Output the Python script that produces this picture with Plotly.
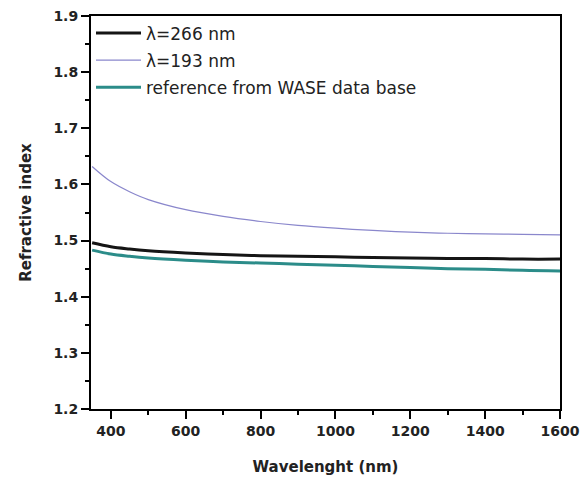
import plotly.graph_objects as go

# Wavelength grid (nm)
wavelength = [350, 400, 450, 500, 600, 700, 800, 900, 1000, 1100, 1200, 1300, 1400, 1500, 1600]

# Refractive index for the film deposited at 266 nm
n_266 = [1.496, 1.489, 1.485, 1.482, 1.478, 1.475, 1.473, 1.472, 1.471, 1.470, 1.469, 1.468, 1.468, 1.467, 1.467]
# Refractive index for the film deposited at 193 nm
n_193 = [1.632, 1.605, 1.587, 1.573, 1.555, 1.543, 1.534, 1.527, 1.522, 1.518, 1.515, 1.513, 1.512, 1.511, 1.510]
# Reference values from the WASE data base
n_ref = [1.483, 1.476, 1.472, 1.469, 1.465, 1.462, 1.460, 1.458, 1.456, 1.454, 1.452, 1.450, 1.449, 1.447, 1.446]

x_ticks = [400, 600, 800, 1000, 1200, 1400, 1600]
y_ticks = [1.2, 1.3, 1.4, 1.5, 1.6, 1.7, 1.8, 1.9]

FONT = "DejaVu Sans"
TEXT_COLOR = "#222222"

fig = go.Figure()
fig.add_trace(go.Scatter(x=wavelength, y=n_266, mode="lines", name="λ=266 nm",
                         line=dict(color="#151515", width=3, shape="spline"),
                         legendgroup="a"))
fig.add_trace(go.Scatter(x=wavelength, y=n_193, mode="lines", name="λ=193 nm",
                         line=dict(color="#8a87cc", width=1.2, shape="spline"),
                         legendgroup="b"))
fig.add_trace(go.Scatter(x=wavelength, y=n_ref, mode="lines", name="reference from WASE data base",
                         line=dict(color="#2b8c89", width=3, shape="spline"),
                         legendgroup="c"))

axis_common = dict(
    showline=True, linecolor="black", linewidth=2, mirror=True,
    ticks="outside", ticklen=8, tickwidth=2, tickcolor="black",
    showgrid=False, zeroline=False, automargin=False,
    tickfont=dict(family=FONT, size=14, color=TEXT_COLOR, weight="bold"),
)

fig.update_xaxes(
    range=[347, 1600], tickvals=x_ticks,
    minor=dict(dtick=100, tick0=0, ticks="outside", ticklen=4, tickwidth=2, tickcolor="black"),
    title=dict(text="Wavelenght (nm)", font=dict(family=FONT, size=15, color=TEXT_COLOR, weight="bold"),
               standoff=24),
    **axis_common,
)
fig.update_yaxes(
    range=[1.2, 1.9], tickvals=y_ticks, tickformat=".1f",
    minor=dict(dtick=0.05, tick0=1.2, ticks="outside", ticklen=4, tickwidth=2, tickcolor="black"),
    title=dict(text="Refractive index", font=dict(family=FONT, size=15, color=TEXT_COLOR, weight="bold"),
               standoff=18),
    **axis_common,
)
fig.update_layout(
    width=581, height=477,
    margin=dict(l=91, r=21, t=16, b=68),
    plot_bgcolor="white", paper_bgcolor="white",
    legend=dict(x=0.0, y=1.0015, xanchor="left", yanchor="top",
                bgcolor="rgba(0,0,0,0)", borderwidth=0,
                font=dict(family=FONT, size=17, color=TEXT_COLOR),
                itemwidth=45,
                traceorder="grouped", tracegroupgap=2),
    showlegend=True,
)

fig.write_html("out.html")
